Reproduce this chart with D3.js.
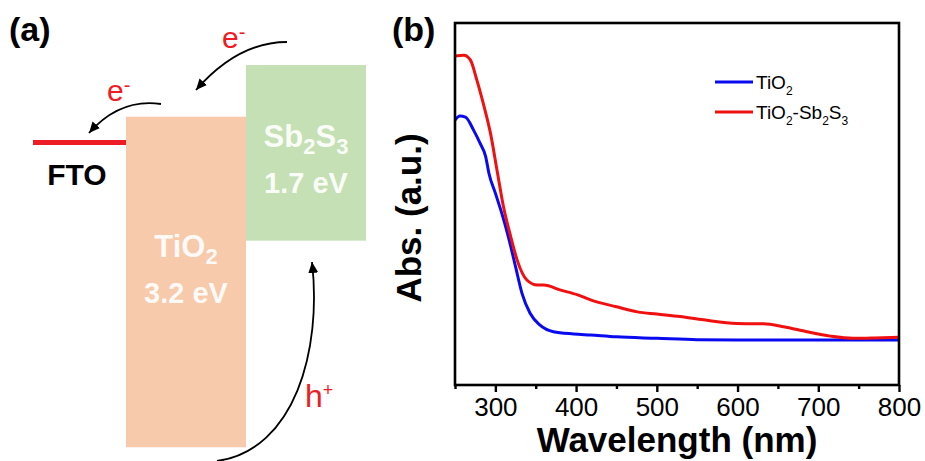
<!DOCTYPE html>
<html>
<head>
<meta charset="utf-8">
<script src="https://cdn.jsdelivr.net/npm/d3@7"></script>
<style>
  html, body { margin: 0; padding: 0; background: #fff; }
  #chart { width: 925px; height: 461px; }
  text { font-family: "Liberation Sans", Arial, sans-serif; }
</style>
</head>
<body>
<div id="chart"></div>
<script>
// Panel (a): band diagram (energies in eV, arbitrary reference)
const materials = ['FTO', 'TiO2', 'Sb2S3'];
const cbLevel = [-4.45, -4.2, -3.7];      // FTO level / conduction band
const vbLevel = [null, -7.4, -5.4];       // valence band
const gapLabels = ['', '3.2 eV', '1.7 eV'];

// Panel (b): UV-vis absorbance (a.u.)
const wlTiO2 = [250, 256, 263, 273, 281, 288, 292, 300, 308, 316, 325, 333, 343, 355, 372, 397, 418, 450, 500, 550, 600, 700, 800];
const absTiO2 = [73.2, 74.3, 74.0, 70.4, 66.8, 63.1, 58.5, 53.0, 47.4, 41.0, 32.7, 25.3, 19.8, 16.6, 14.7, 14.1, 13.8, 13.3, 12.9, 12.5, 12.4, 12.4, 12.4];
const wlSb = [250, 261, 269, 277, 285, 294, 302, 310, 319, 327, 339, 352, 360, 381, 402, 418, 450, 476, 500, 529, 558, 599, 632, 657, 686, 715, 743, 770, 800];
const absSb = [90.9, 91.1, 89.8, 84.3, 77.8, 69.5, 59.4, 49.3, 41.0, 34.5, 29.0, 27.6, 27.6, 26.2, 24.9, 23.5, 21.6, 20.2, 19.6, 18.9, 18.0, 17.0, 16.9, 16.1, 14.7, 13.5, 12.9, 13.0, 13.2];
const majorTicks = [300, 400, 500, 600, 700, 800];
const minorTicks = [250, 350, 450, 550, 650, 750];
const seriesNames = ['TiO2', 'TiO2-Sb2S3'];

const COLOR_BLUE = '#0a0af0',
  COLOR_RED = '#f01010',
  COLOR_TIO2 = '#f6caab',
  COLOR_SB = '#c5e0b4',
  COLOR_FTO = '#ee1c25';

const svg = d3.select('#chart').append('svg')
  .attr('width', 925).attr('height', 461);

// arrow head
svg.append('defs').append('marker')
  .attr('id', 'head')
  .attr('markerUnits', 'userSpaceOnUse')
  .attr('markerWidth', 12).attr('markerHeight', 10)
  .attr('refX', 11).attr('refY', 5)
  .attr('orient', 'auto')
  .append('path').attr('d', 'M0,0 L11,5 L0,10 z').attr('fill', '#000');

// writes a formula like "TiO2-Sb2S3" with digits as subscripts
function formula(t, name, subSize, shift) {
  let down = false;
  name.split(/(\d)/).forEach(function(p) {
    if (p === '') return;
    if (/\d/.test(p)) {
      t.append('tspan').attr('font-size', subSize).attr('dy', down ? 0 : shift).text(p);
      down = true;
    } else {
      t.append('tspan').attr('dy', down ? -shift : 0).text(p);
      down = false;
    }
  });
}

//////////// Panel (a)
const ga = svg.append('g');
const xa = d3.scaleBand().domain(materials).range([6, 366]);
const ya = d3.scaleLinear().domain([-3.2, -7.6]).range([13.4, 467.9]);

// bands
materials.forEach(function(m, i) {
  if (vbLevel[i] === null) return;
  ga.append('rect')
    .attr('x', xa(m)).attr('width', xa.bandwidth())
    .attr('y', ya(cbLevel[i])).attr('height', ya(vbLevel[i]) - ya(cbLevel[i]))
    .attr('fill', i == 1 ? COLOR_TIO2 : COLOR_SB);
});

// FTO level
ga.append('line')
  .attr('x1', xa('FTO') + 27).attr('x2', xa('TiO2'))
  .attr('y1', ya(cbLevel[0])).attr('y2', ya(cbLevel[0]))
  .attr('stroke', COLOR_FTO).attr('stroke-width', 5);

ga.append('text').attr('x', 77).attr('y', ya(cbLevel[0]) + 42)
  .attr('text-anchor', 'middle').attr('font-size', 30).attr('font-weight', 'bold')
  .text('FTO');

// band labels (white)
const cxT = xa('TiO2') + xa.bandwidth() / 2,
  cxS = xa('Sb2S3') + xa.bandwidth() / 2;
[[cxT, 257, 1], [cxS, 147, 2]].forEach(function(p) {
  const t = ga.append('text').attr('x', p[0]).attr('y', p[1])
    .attr('text-anchor', 'middle').attr('font-size', 31).attr('font-weight', 'bold')
    .attr('fill', '#fff').attr('fill-opacity', 0.92);
  formula(t, materials[p[2]], 22, 7);
});
[[cxT, 303, 1], [cxS, 193, 2]].forEach(function(p) {
  ga.append('text').attr('x', p[0]).attr('y', p[1]).attr('text-anchor', 'middle')
    .attr('font-size', 29).attr('font-weight', 'bold').attr('fill', '#fff').attr('fill-opacity', 0.92)
    .text(gapLabels[p[2]]);
});

// transfer arrows
const arrows = [
  'M287,42 Q238,42 196,90',
  'M161,104 Q120,98 89,133',
  'M217,461 C295,450 322,350 312,262'
];
arrows.forEach(function(d) {
  ga.append('path').attr('d', d).attr('fill', 'none')
    .attr('stroke', '#000').attr('stroke-width', 1.8)
    .attr('marker-end', 'url(#head)');
});

function carrier(x, y, base, sup, size, supSize, supDy) {
  const t = ga.append('text').attr('x', x).attr('y', y)
    .attr('font-size', size).attr('fill', COLOR_FTO);
  t.append('tspan').text(base);
  t.append('tspan').attr('font-size', supSize).attr('dy', supDy).text(sup);
}
carrier(222, 48, 'e', '-', 30, 20, -9);
carrier(107, 101, 'e', '-', 30, 20, -9);
carrier(305, 407, 'h', '+', 32, 18, -11);

ga.append('text').attr('x', 9).attr('y', 41)
  .attr('font-family', '"Open Sans", sans-serif').attr('font-size', 34).attr('font-weight', 'bold')
  .text('(a)');

//////////// Panel (b)
const margin = {top: 23, right: 26, bottom: 76, left: 455};
const width = 925 - margin.left - margin.right,
  height = 461 - margin.top - margin.bottom;

const gb = svg.append('g')
  .attr('transform', 'translate(' + margin.left + ',' + margin.top + ')');

const x = d3.scaleLinear().domain([250, 800]).range([0, width]);
const y = d3.scaleLinear().domain([0, 100]).range([height, 0]);

const line = d3.line()
  .x(function(d) { return x(d[0]); })
  .y(function(d) { return y(d[1]); })
  .curve(d3.curveMonotoneX);

const dataTiO2 = wlTiO2.map(function(w, i) { return [w, absTiO2[i]]; });
const dataSb = wlSb.map(function(w, i) { return [w, absSb[i]]; });

gb.append('path').datum(dataTiO2).attr('d', line)
  .attr('fill', 'none').attr('stroke', COLOR_BLUE).attr('stroke-width', 3);
gb.append('path').datum(dataSb).attr('d', line)
  .attr('fill', 'none').attr('stroke', COLOR_RED).attr('stroke-width', 3);

// frame
gb.append('rect').attr('width', width).attr('height', height)
  .attr('fill', 'none').attr('stroke', '#000').attr('stroke-width', 2.6);

// x axis
const xAxis = gb.append('g').attr('transform', 'translate(0,' + height + ')')
  .call(d3.axisBottom(x).tickValues(majorTicks).tickSize(7).tickPadding(6));
xAxis.select('.domain').remove();
xAxis.selectAll('line').attr('stroke-width', 2.4);
xAxis.selectAll('text')
  .attr('font-family', '"Liberation Sans", Arial, sans-serif')
  .attr('font-size', 26).attr('fill', '#000');

const xMinor = gb.append('g').attr('transform', 'translate(0,' + height + ')')
  .call(d3.axisBottom(x).tickValues(minorTicks).tickSize(4).tickFormat(''));
xMinor.select('.domain').remove();
xMinor.selectAll('line').attr('stroke-width', 2.4);

// axis titles
gb.append('text').attr('x', width / 2).attr('y', height + 67)
  .attr('text-anchor', 'middle').attr('font-size', 35).attr('font-weight', 'bold')
  .text('Wavelength (nm)');
gb.append('text')
  .attr('transform', 'translate(' + (-34) + ',' + 195 + ') rotate(-90)')
  .attr('text-anchor', 'middle').attr('font-size', 35).attr('font-weight', 'bold')
  .text('Abs. (a.u.)');

// legend
const legend = gb.append('g').attr('transform', 'translate(260,59)');
[COLOR_BLUE, COLOR_RED].forEach(function(c, i) {
  const ly = i * 30;
  legend.append('line').attr('x1', 0).attr('x2', 38).attr('y1', ly).attr('y2', ly)
    .attr('stroke', c).attr('stroke-width', 3);
  const t = legend.append('text').attr('x', 41).attr('y', ly + 6.5).attr('font-size', 19);
  formula(t, seriesNames[i], 12, 6);
});

svg.append('text').attr('x', 392).attr('y', 41)
  .attr('font-family', '"Open Sans", sans-serif').attr('font-size', 34).attr('font-weight', 'bold')
  .text('(b)');
</script>
</body>
</html>
